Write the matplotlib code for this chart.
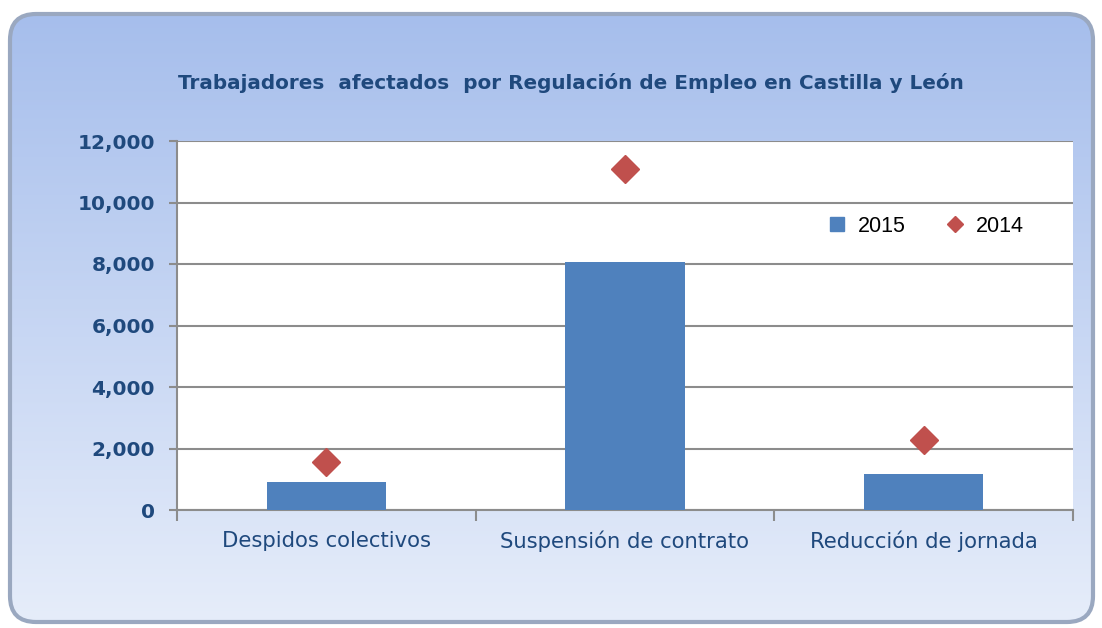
import numpy as np
import matplotlib
matplotlib.use("Agg")
import matplotlib.pyplot as plt
from matplotlib.patches import FancyBboxPatch
from matplotlib.lines import Line2D

categories = ["Despidos colectivos", "Suspensión de contrato", "Reducción de jornada"]
values_2015 = [910, 8060, 1170]
values_2014 = [1560, 11090, 2280]
yticks = [0, 2000, 4000, 6000, 8000, 10000, 12000]
title = "Trabajadores  afectados  por Regulación de Empleo en Castilla y León"

W, H = 1102, 628
fig = plt.figure(figsize=(W / 100, H / 100), dpi=100)
fig.patch.set_facecolor("white")

# background rounded panel with gradient
bg = fig.add_axes([0, 0, 1, 1])
bg.set_xlim(0, W)
bg.set_ylim(H, 0)
bg.axis("off")
grad = np.linspace(0, 1, 256)[:, None]
top = np.array([166, 190, 236]) / 255
bot = np.array([230, 237, 250]) / 255
img = top[None, None, :] * (1 - grad[:, :, None]) + bot[None, None, :] * grad[:, :, None]
img = np.repeat(img, 4, axis=1)
box = FancyBboxPatch((10, 14), 1083, 608, boxstyle="round,pad=0,rounding_size=26",
                     facecolor="none", edgecolor="#9aa8c0", linewidth=3)
bg.add_patch(box)
im = bg.imshow(img, extent=[10, 1093, 622, 14], aspect="auto", zorder=0)
im.set_clip_path(box)

title_color = "#1F497D"
fig.text(571 / W, 1 - 83 / H, title, ha="center", va="center", fontsize=14.4,
         fontweight="bold", color=title_color, family="DejaVu Sans")

ax = fig.add_axes([177 / W, 1 - 510 / H, (1073 - 177) / W, (510 - 141) / H])
ax.set_facecolor("white")
x = np.arange(len(categories))
ax.bar(x, values_2015, width=0.4, color="#4F81BD", zorder=3, label="2015")
ax.plot(x, values_2014, linestyle="none", marker="D", markersize=14,
        color="#C0504D", zorder=4, label="2014")
ax.set_xlim(-0.5, 2.5)
ax.set_ylim(0, 12000)
ax.set_yticks(yticks)
ax.set_yticklabels([f"{v:,}" for v in yticks])
ax.yaxis.grid(True, color="#8c8c8c", linewidth=1.5, zorder=1)
for s in ["top", "right"]:
    ax.spines[s].set_visible(False)
for s in ["left", "bottom"]:
    ax.spines[s].set_color("#8c8c8c")
    ax.spines[s].set_linewidth(1.5)
ax.tick_params(axis="y", length=6, width=1.5, color="#8c8c8c", labelsize=14.5,
               labelcolor=title_color, pad=10)
for lab in ax.get_yticklabels():
    lab.set_fontweight("bold")
ax.set_xticks([-0.5, 0.5, 1.5, 2.5], minor=False)
ax.set_xticklabels([])
ax.tick_params(axis="x", length=8, width=1.5, color="#8c8c8c")
ax.set_xticks(x, minor=True)
ax.set_xticklabels(categories, minor=True)
ax.tick_params(axis="x", which="minor", length=0, labelsize=15.2,
               labelcolor=title_color, pad=15)

handles = [Line2D([], [], linestyle="none", marker="s", markersize=10,
                  color="#4F81BD", label="2015"),
           Line2D([], [], linestyle="none", marker="D", markersize=8,
                  color="#C0504D", label="2014")]
leg = ax.legend(handles=handles, ncol=2, frameon=False, loc="center",
                bbox_to_anchor=((924 - 177) / 896, (510 - 226) / 369),
                prop={"family": "Liberation Sans", "size": 15.5},
                handletextpad=0.35, columnspacing=1.7, handlelength=1.2)

fig.savefig("out.png", dpi=100, facecolor="white")
